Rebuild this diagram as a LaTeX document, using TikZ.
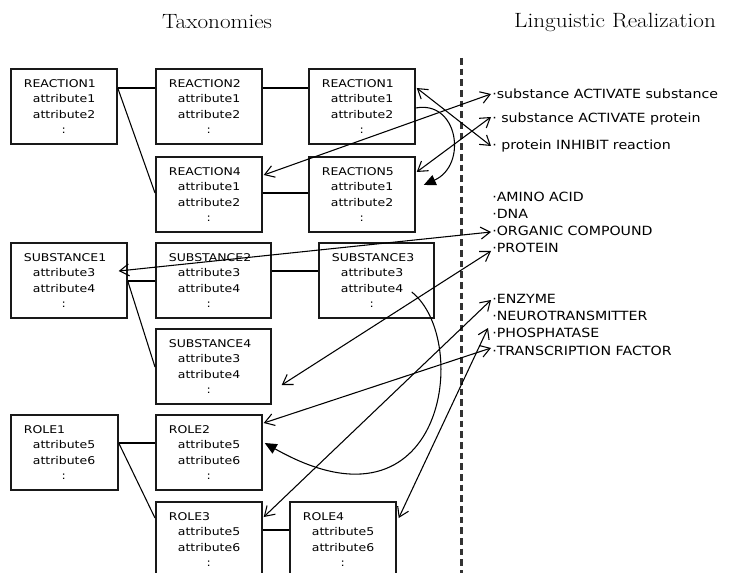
\documentclass[tikz,border=0pt]{standalone}
\usepackage{fontspec}
\newfontfamily\boxfont[FakeStretch=1.17]{DejaVu Sans}
\newfontfamily\lingfont[FakeStretch=1.12]{DejaVu Sans}
\newfontfamily\headfont[FakeStretch=1.12]{Latin Modern Roman}
\usetikzlibrary{arrows.meta,calc}
\newcommand\boxtext[3]{\hspace*{9.75pt}#1\\\hspace*{16.5pt}#2\\\hspace*{16.5pt}#3\\\hspace*{38pt}:}
\tikzset{
 box/.style={draw=black!90, line width=1.3pt, anchor=north west, inner xsep=0pt, inner ysep=0pt,
   minimum height=56.25pt, align=left, font=\boxfont\fontsize{8}{11.6}\selectfont},
 link/.style={line width=0.8pt},
 ref/.style={line width=0.8pt, {Straight Barb[length=7pt,width=9pt]}-{Straight Barb[length=7pt,width=9pt]}},
 curv/.style={line width=0.8pt, -{Triangle[length=9pt,width=8pt]}},
 ling/.style={anchor=west, inner sep=0pt, font=\lingfont\fontsize{9.5}{11}\selectfont},
 head/.style={font=\headfont\fontsize{15.5}{18}\selectfont},
 divider/.style={draw=black!80, line width=1.7pt, dash pattern=on 5pt off 3pt},
}
\begin{document}
\begin{tikzpicture}[x=0.75pt,y=-0.75pt]
\useasboundingbox (0,0) rectangle (730,573);
\clip (0,0) rectangle (730,573);
% headings
\node[head] (h1) at (217,22) {Taxonomies};
\node[head] (h2) at (615,22) {Linguistic Realization};
% divider
\coordinate (dtop) at (461.5,58);
\coordinate (dbot) at (461.5,580);
\draw[divider] (dtop) -- (dbot);
% reaction boxes
\node[box, text width=79.5pt] (ra) at (10,68) {\boxtext{REACTION1}{attribute1}{attribute2}};
\node[box, text width=79.5pt] (rb) at (155,68) {\boxtext{REACTION2}{attribute1}{attribute2}};
\node[box, text width=79.5pt] (rc) at (308,68) {\boxtext{REACTION1}{attribute1}{attribute2}};
\node[box, text width=79.5pt] (rd) at (155,156) {\boxtext{REACTION4}{attribute1}{attribute2}};
\node[box, text width=79.5pt] (re) at (308,156) {\boxtext{REACTION5}{attribute1}{attribute2}};
% substance boxes
\node[box, text width=87pt] (sa) at (10,242) {\boxtext{SUBSTANCE1}{attribute3}{attribute4}};
\node[box, text width=86.25pt] (sb) at (155,242) {\boxtext{SUBSTANCE2}{attribute3}{attribute4}};
\node[box, text width=86.25pt] (sc) at (318,242) {\boxtext{SUBSTANCE3}{attribute3}{attribute4}};
\node[box, text width=86.25pt] (sd) at (155,328) {\boxtext{SUBSTANCE4}{attribute3}{attribute4}};
% role boxes
\node[box, text width=80.25pt] (oa) at (10,414) {\boxtext{ROLE1}{attribute5}{attribute6}};
\node[box, text width=79.5pt] (ob) at (155,414) {\boxtext{ROLE2}{attribute5}{attribute6}};
\node[box, text width=79.5pt] (oc) at (155,501) {\boxtext{ROLE3}{attribute5}{attribute6}};
\node[box, text width=79.5pt] (od) at (289,501) {\boxtext{ROLE4}{attribute5}{attribute6}};
% taxonomy links
\draw[link] ($(ra.north east)+(0,20)$) -- ($(rb.north west)+(0,20)$);
\draw[link] ($(ra.north east)+(0,20)$) -- ($(rd.north west)+(0,37)$);
\draw[link] ($(rb.north east)+(0,20)$) -- ($(rc.north west)+(0,20)$);
\draw[link] ($(rd.north east)+(0,37)$) -- ($(re.north west)+(0,37)$);
\draw[link] ($(sa.north east)+(0,39)$) -- ($(sb.north west)+(0,39)$);
\draw[link] ($(sa.north east)+(0,39)$) -- ($(sd.north west)+(0,39)$);
\draw[link] ($(sb.north east)+(0,29)$) -- ($(sc.north west)+(0,29)$);
\draw[link] ($(oa.north east)+(0,29)$) -- ($(ob.north west)+(0,29)$);
\draw[link] ($(oa.north east)+(0,29)$) -- ($(oc.north west)+(0,17)$);
\draw[link] ($(oc.north east)+(0,29)$) -- ($(od.north west)+(0,29)$);
% linguistic realization texts
\node[ling] (t1) at (492,94) {·substance ACTIVATE substance};
\node[ling] (t2) at (492,119) {· substance ACTIVATE protein};
\node[ling] (t3) at (492,146) {· protein INHIBIT reaction};
\node[ling] (t4) at (492,197) {·AMINO ACID};
\node[ling] (t5) at (492,214) {·DNA};
\node[ling] (t6) at (492,231) {·ORGANIC COMPOUND};
\node[ling] (t7) at (492,248) {·PROTEIN};
\node[ling] (t8) at (492,299) {·ENZYME};
\node[ling] (t9) at (492,316) {·NEUROTRANSMITTER};
\node[ling] (t10) at (492,333) {·PHOSPHATASE};
\node[ling] (t11) at (492,351) {·TRANSCRIPTION FACTOR};
% realization arrows
\draw[ref] ($(rd.north east)+(1,19)$) -- ($(t1.west)+(-1,0)$);
\draw[ref] ($(rc.north east)+(1,20)$) -- ($(t3.west)+(-1,0)$);
\draw[ref] ($(re.north east)+(1,16)$) -- ($(t2.west)+(-1,-2)$);
\draw[ref] ($(sa.north east)+(-9,29)$) -- ($(t6.west)+(-1,1)$);
\draw[ref] ($(sd.north east)+(10,57)$) -- ($(t7.west)+(-1,3)$);
\draw[ref] ($(oc.north east)+(1,16)$) -- ($(t8.west)+(-1,1)$);
\draw[ref] ($(ob.north east)+(1,9)$) -- ($(t11.west)+(-1,-3)$);
\draw[ref] ($(od.north east)+(2,17)$) -- ($(t10.west)+(-4,-5)$);
% curved relation arrows
\draw[curv] ($(rc.north east)+(0,40)$) .. controls (458,100) and (468,165) .. ($(re.north east)+(8,29)$);
\draw[curv] ($(sc.north east)+(-23,50)$) .. controls (472,340) and (445,545) .. ($(ob.north east)+(2,29)$);
\end{tikzpicture}
\end{document}
